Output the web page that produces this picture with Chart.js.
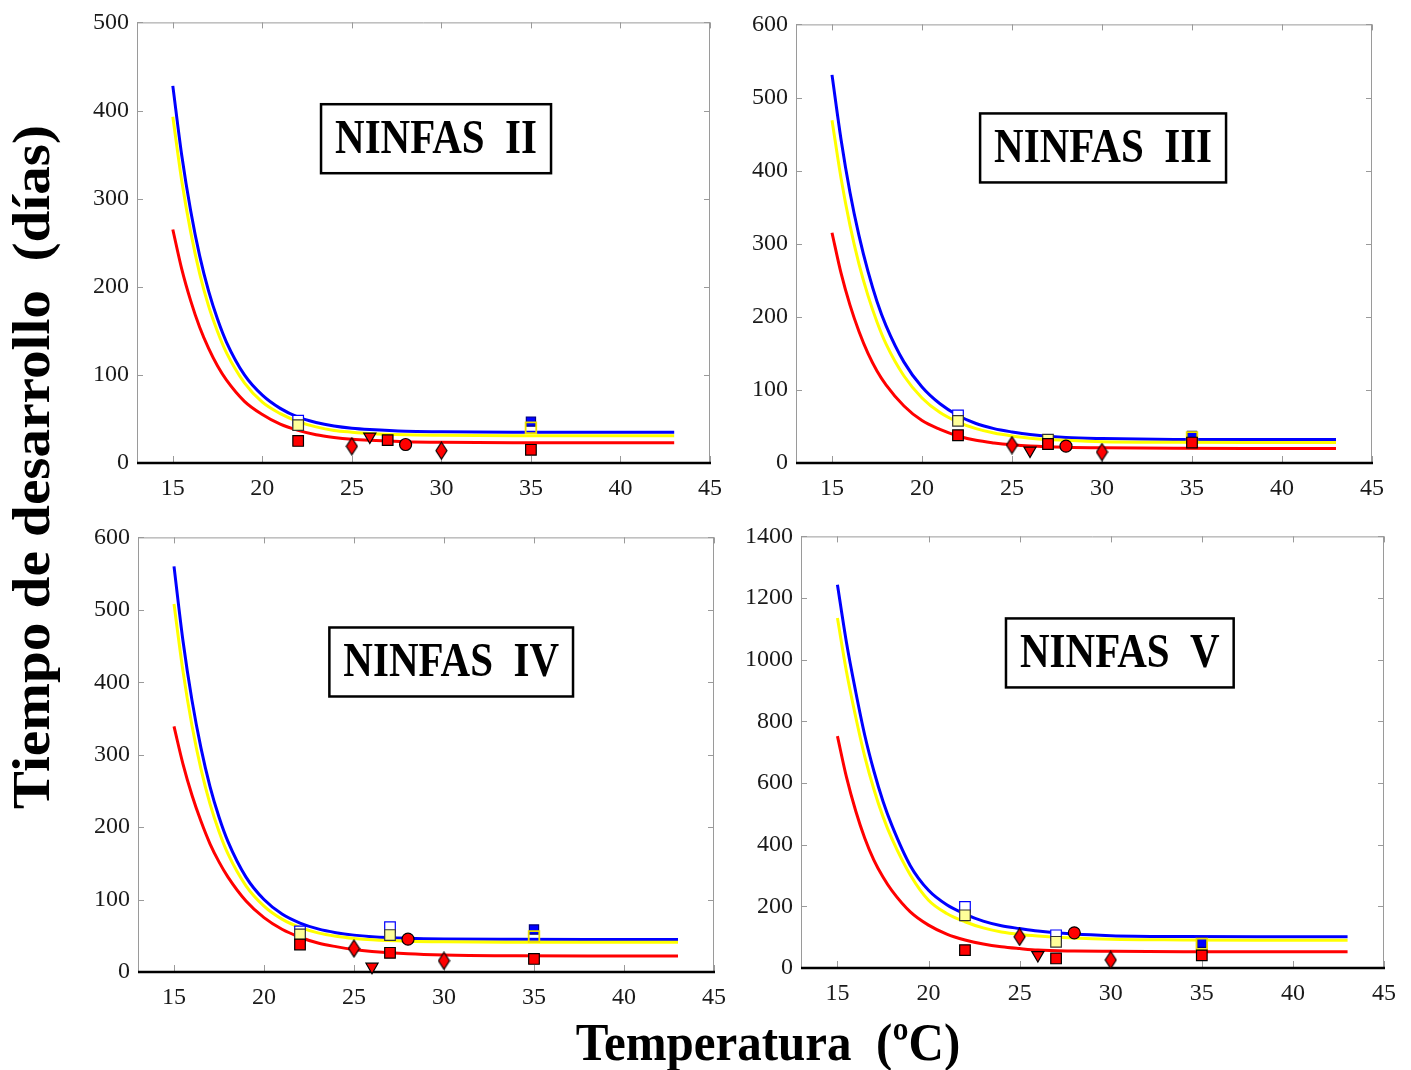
<!DOCTYPE html>
<html>
<head>
<meta charset="utf-8">
<script src="https://cdn.jsdelivr.net/npm/chart.js@4.4.1/dist/chart.umd.min.js"></script>
<style>
  html, body { margin: 0; padding: 0; background: #fff; }
  #page { position: relative; width: 1411px; height: 1070px; overflow: hidden; }
  .panel { position: absolute; }
  .ytitle {
    position: absolute; left: 31px; top: 467px;
    transform: translate(-50%, -50%) rotate(-90deg) scaleX(1.1);
    font: bold 52px "Liberation Serif", serif; white-space: pre; color: #000;
  }
  .xtitle {
    position: absolute; left: 768px; top: 1042px;
    transform: translate(-50%, -50%) scaleY(1.08);
    font: bold 49px "Liberation Serif", serif; white-space: pre; color: #000;
  }
</style>
</head>
<body>
<div id="page">
  <canvas id="c1" class="panel"></canvas>
  <canvas id="c2" class="panel"></canvas>
  <canvas id="c3" class="panel"></canvas>
  <canvas id="c4" class="panel"></canvas>
  <div class="ytitle">Tiempo de desarrollo  (días)</div>
  <div class="xtitle">Temperatura  (ºC)</div>
</div>
<script>
// temperature axis and sampled model curves
const tempTicks = [15, 20, 25, 30, 35, 40, 45];
const curveTemps = [15, 15.5, 16, 16.5, 17, 17.5, 18, 19, 20, 21, 22, 23, 24, 25, 26, 28, 30, 34, 38, 43];

// observed means: one entry per temperature below
const obsTemps = [22, 25, 26, 27, 28, 30, 35];
const obsShapes = ['rect', 'diamond', 'triangle', 'rect', 'circle', 'diamond', 'rect'];

// NINFAS II
const n2Ticks = [0, 100, 200, 300, 400, 500];
const n2Blue = [428, 349, 286, 235, 195, 163, 137, 100, 77, 62, 52, 46, 42, 39.5, 38, 36, 35.5, 35, 35, 35];
const n2Yellow = [393, 320, 262, 215, 178, 149, 125, 91, 69, 56, 47, 41, 37, 35, 33.5, 32, 31.5, 31, 31, 31];
const n2Red = [265, 220, 184, 154, 130, 110, 94, 70, 55, 44, 37, 32, 29, 27, 25.8, 24.2, 23.5, 23, 23, 23];
const n2RedObs = [25, 19, 30, 26, 21, 14, 15];
const n2YellowObs = [43, null, null, null, null, null, 40];
const n2BlueObs = [48, null, null, null, null, null, 47];

// NINFAS III
const n3Ticks = [0, 100, 200, 300, 400, 500, 600];
const n3Blue = [531, 443, 370, 311, 262, 221, 188, 138, 104, 81, 65, 54, 47, 42.5, 39, 35, 33.5, 32.3, 32, 32];
const n3Yellow = [469, 390, 325, 272, 229, 193, 163, 119, 89, 69, 56, 47, 41, 37, 34, 31, 29, 28.3, 28, 28];
const n3Red = [315, 260, 216, 180, 150, 126, 107, 78, 58, 46, 37, 31, 27.5, 25, 23.3, 21.5, 20.7, 20.1, 20, 20];
const n3RedObs = [38, 24.5, 17, 26, 23, 15, 28];
const n3YellowObs = [57.6, null, null, 32, null, null, 35];
const n3BlueObs = [65, null, null, null, null, null, 37];

// NINFAS IV
const n4Ticks = [0, 100, 200, 300, 400, 500, 600];
const n4Blue = [560, 457, 375, 309, 256, 214, 180, 131, 100, 80, 67.6, 59.5, 54.3, 50.9, 48.8, 46.6, 45.6, 45.1, 45, 45];
const n4Yellow = [508, 415, 340, 280, 232, 194, 163, 119, 91, 73, 61.5, 54, 49.4, 46.4, 44.4, 42.4, 41.6, 41.1, 41, 41];
const n4Red = [339, 287, 244, 208, 177, 152, 131, 98, 75, 59, 48, 40, 35, 31, 28.4, 25.1, 23.5, 22.4, 22, 22];
const n4RedObs = [38, 32.5, 7.3, 26.5, 45.3, 15.5, 18];
const n4YellowObs = [52, null, null, 51, null, null, 49];
const n4BlueObs = [56, null, null, 62, null, null, 58.6];

// NINFAS V
const n5Ticks = [0, 200, 400, 600, 800, 1000, 1200, 1400];
const n5Blue = [1243, 1054, 897, 755, 639, 541, 461, 332, 252, 205, 175, 152, 137, 128, 120, 110, 105, 102, 101, 101];
const n5Yellow = [1135, 960, 815, 686, 580, 491, 418, 302, 220, 177, 150, 130, 117, 109, 104, 97, 93, 91, 90, 90];
const n5Red = [752, 618, 510, 421, 350, 295, 250, 182, 139, 110, 91, 78, 69, 63, 58, 55, 54, 53, 53, 53];
const n5RedObs = [58, 101, 42, 31, 114, 26, 41];
const n5YellowObs = [171, null, null, 85, null, null, 78];
const n5BlueObs = [198, null, null, 106, null, null, 82];

const SERIF = '"Liberation Serif", "DejaVu Serif", serif';

// tall diamond marker (Chart.js 'rectRot' is always square)
function diamondMarker(w, h, fill, stroke) {
  const c = document.createElement('canvas');
  c.width = w + 2; c.height = h + 2;
  const g = c.getContext('2d');
  const cx = c.width / 2, cy = c.height / 2;
  g.beginPath();
  g.moveTo(cx, cy - h / 2); g.lineTo(cx + w / 2, cy);
  g.lineTo(cx, cy + h / 2); g.lineTo(cx - w / 2, cy);
  g.closePath();
  g.fillStyle = fill; g.fill();
  g.lineWidth = 1.2; g.strokeStyle = stroke; g.stroke();
  return c;
}
const redDiamond = diamondMarker(11, 17, '#ff0000', '#000');

// gray box with inward ticks, black x axis line
const framePlugin = {
  id: 'frame',
  beforeDatasetsDraw(chart) {
    const { ctx, chartArea: a, scales: { x, y } } = chart;
    ctx.save();
    ctx.strokeStyle = '#9a9a9a';
    ctx.lineWidth = 1;
    ctx.beginPath();
    ctx.moveTo(a.left + 0.5, a.bottom);
    ctx.lineTo(a.left + 0.5, a.top + 0.5);
    ctx.lineTo(a.right - 0.5, a.top + 0.5);
    ctx.lineTo(a.right - 0.5, a.bottom);
    x.ticks.forEach(t => {
      const px = Math.round(x.getPixelForValue(t.value)) + 0.5;
      ctx.moveTo(px, a.top); ctx.lineTo(px, a.top + 6);
      ctx.moveTo(px, a.bottom); ctx.lineTo(px, a.bottom - 7);
    });
    y.ticks.forEach(t => {
      const py = Math.round(y.getPixelForValue(t.value)) + 0.5;
      ctx.moveTo(a.left, py); ctx.lineTo(a.left + 6, py);
      ctx.moveTo(a.right, py); ctx.lineTo(a.right - 6, py);
    });
    ctx.stroke();
    ctx.strokeStyle = '#000';
    ctx.lineWidth = 2.5;
    ctx.beginPath();
    ctx.moveTo(a.left, a.bottom);
    ctx.lineTo(a.right + 1, a.bottom);
    ctx.stroke();
    ctx.restore();
  }
};

// boxed stage name inside the plot
const stagePlugin = {
  id: 'stage',
  afterDraw(chart, args, opts) {
    const { ctx, scales: { x, y } } = chart;
    const cx = x.getPixelForValue(opts.at[0]);
    const cy = y.getPixelForValue(opts.at[1]);
    ctx.save();
    ctx.font = 'bold 41px ' + SERIF;
    const w = ctx.measureText(opts.text).width + 28;
    const h = 69;
    ctx.fillStyle = '#fff';
    ctx.fillRect(cx - w / 2, cy - h / 2, w, h);
    ctx.lineWidth = 2.5;
    ctx.strokeStyle = '#000';
    ctx.strokeRect(cx - w / 2, cy - h / 2, w, h);
    ctx.fillStyle = '#000';
    ctx.textAlign = 'center';
    ctx.textBaseline = 'middle';
    ctx.translate(cx, cy + 2);
    ctx.scale(1, 1.18);
    ctx.fillText(opts.text, 0, 0);
    ctx.restore();
  }
};

const panels = [
  { id: 'c1', title: 'NINFAS  II', at: [29.7, 368], yMax: 500, yTicks: n2Ticks,
    box: { left: 67, top: 0, width: 671, height: 511 }, area: { l: 137, t: 20, r: 710, b: 463 },
    blue: n2Blue, yellow: n2Yellow, red: n2Red, redObs: n2RedObs, yellowObs: n2YellowObs, blueObs: n2BlueObs },
  { id: 'c2', title: 'NINFAS  III', at: [30.06, 431], yMax: 600, yTicks: n3Ticks,
    box: { left: 726, top: 2, width: 674, height: 509 }, area: { l: 796, t: 22, r: 1372, b: 463 },
    blue: n3Blue, yellow: n3Yellow, red: n3Red, redObs: n3RedObs, yellowObs: n3YellowObs, blueObs: n3BlueObs },
  { id: 'c3', title: 'NINFAS  IV', at: [30.4, 428], yMax: 600, yTicks: n4Ticks,
    box: { left: 68, top: 515, width: 674, height: 505 }, area: { l: 138, t: 535, r: 714, b: 972 },
    blue: n4Blue, yellow: n4Yellow, red: n4Red, redObs: n4RedObs, yellowObs: n4YellowObs, blueObs: n4BlueObs },
  { id: 'c4', title: 'NINFAS  V', at: [30.5, 1022], yMax: 1400, yTicks: n5Ticks,
    box: { left: 731, top: 514, width: 680, height: 502 }, area: { l: 801, t: 534, r: 1384, b: 968 },
    blue: n5Blue, yellow: n5Yellow, red: n5Red, redObs: n5RedObs, yellowObs: n5YellowObs, blueObs: n5BlueObs }
];

const toPoints = (xs, ys) => xs.map((t, i) => ({ x: t, y: ys[i] }));

function curve(values, color) {
  return {
    data: toPoints(curveTemps, values),
    showLine: true,
    borderColor: color,
    borderWidth: 3,
    pointRadius: 0,
    cubicInterpolationMode: 'monotone',
    fill: false
  };
}

function drawPanel(p) {
  const canvas = document.getElementById(p.id);
  canvas.width = p.box.width;
  canvas.height = p.box.height;
  canvas.style.left = p.box.left + 'px';
  canvas.style.top = p.box.top + 'px';

  const yWidth = p.area.l - p.box.left;
  const padTop = p.area.t - p.box.top;
  const padRight = p.box.left + p.box.width - p.area.r;
  const xHeight = p.box.top + p.box.height - p.area.b;

  const redPts = {
    data: toPoints(obsTemps, p.redObs),
    pointStyle: obsShapes.map(s => s === 'diamond' ? redDiamond : s),
    rotation: obsShapes.map(s => s === 'triangle' ? 180 : 0),
    pointRadius: obsShapes.map(s => s === 'rect' ? 7.5 : s === 'circle' ? 6 : 7),
    backgroundColor: '#ff0000',
    borderColor: '#000',
    borderWidth: 1.2,
    clip: false
  };
  const yellowPts = {
    data: toPoints(obsTemps, p.yellowObs),
    pointStyle: 'rect',
    pointRadius: 7.5,
    backgroundColor: obsTemps.map(t => t === 35 ? 'rgba(0,0,0,0)' : '#ffff99'),
    borderColor: obsTemps.map(t => t === 35 ? '#ecdf00' : '#333'),
    borderWidth: obsTemps.map(t => t === 35 ? 1.8 : 1.2),
    clip: false
  };
  const bluePts = {
    data: toPoints(obsTemps, p.blueObs),
    pointStyle: 'rect',
    pointRadius: obsTemps.map(t => t === 35 ? 6.5 : 7.5),
    backgroundColor: obsTemps.map(t => t === 35 ? '#0000ff' : '#ffffff'),
    borderColor: obsTemps.map(t => t === 35 ? '#000080' : '#0000ff'),
    borderWidth: 1.2,
    clip: false
  };

  new Chart(canvas, {
    type: 'scatter',
    data: {
      datasets: [redPts, yellowPts, bluePts,
        curve(p.red, '#ff0000'), curve(p.yellow, '#ffff00'), curve(p.blue, '#0000ff')]
    },
    options: {
      responsive: false,
      animation: false,
      layout: { padding: { top: padTop, right: padRight, left: 0, bottom: 0 } },
      plugins: {
        legend: { display: false },
        tooltip: { enabled: false },
        stage: { text: p.title, at: p.at }
      },
      scales: {
        x: {
          type: 'linear', min: 13, max: 45,
          grid: { display: false, drawTicks: false },
          border: { display: false },
          ticks: { color: '#1a1a1a', padding: 11, font: { family: SERIF, size: 24 },
                   callback: v => String(v) },
          afterBuildTicks: s => { s.ticks = tempTicks.map(v => ({ value: v })); },
          afterFit: s => { s.height = xHeight; }
        },
        y: {
          type: 'linear', min: 0, max: p.yMax,
          grid: { display: false, drawTicks: false },
          border: { display: false },
          ticks: { color: '#1a1a1a', padding: 8, font: { family: SERIF, size: 24 },
                   callback: v => String(v) },
          afterBuildTicks: s => { s.ticks = p.yTicks.map(v => ({ value: v })); },
          afterFit: s => { s.width = yWidth; }
        }
      }
    },
    plugins: [framePlugin, stagePlugin]
  });
}

panels.forEach(drawPanel);
</script>
</body>
</html>
